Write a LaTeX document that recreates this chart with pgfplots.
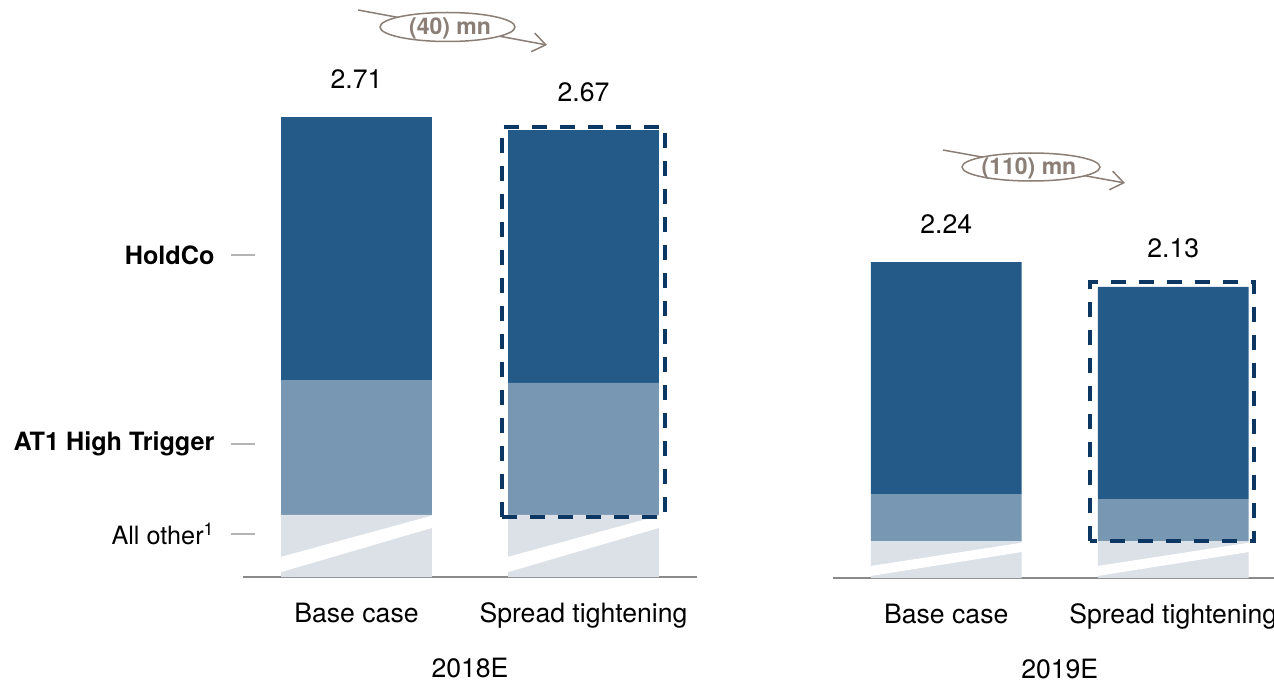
\documentclass[border=0pt]{standalone}
\usepackage{pgfplots}
\pgfplotsset{compat=1.18}
\usepackage{pgfplotstable}
\usepackage{fontspec}
\setmainfont{TeX Gyre Heros}
\usetikzlibrary{arrows.meta}

\definecolor{holdco}{HTML}{245A87}
\definecolor{atone}{HTML}{7897B2}
\definecolor{allother}{HTML}{DBE1E7}
\definecolor{framecol}{HTML}{0C3763}
\definecolor{axisgray}{HTML}{8A8A8A}
\definecolor{tickgray}{HTML}{B4B4B4}
\definecolor{notecol}{HTML}{8A7E76}

% Funding cost split per scenario (bn), broken value axis
\pgfplotstableread{
x other at1 holdco
0 1.486 0.415 0.809
1 1.486 0.406 0.778
}\dataA
\pgfplotstableread{
x other at1 holdco
0 1.011 0.207 1.022
1 1.011 0.185 0.934
}\dataB

\newcommand\mainfont{\fontsize{13.3}{15}\selectfont}
\newcommand\catfont{\fontsize{12.6}{14}\selectfont}
\newcommand\notefont{\fontsize{11.5}{13}\selectfont\bfseries}

\pgfplotsset{
  panel/.style={
    scale only axis, width=227pt,
    ybar stacked, bar width=0.664,
    xmin=-0.5, xmax=1.5,
    axis x line=bottom, axis y line=left, axis line style={-},
    x axis line style={draw=axisgray, line width=1pt},
    y axis line style={draw=none},
    tick align=center, major tick length=11.5pt,
    xtick={0,1}, xticklabels={Base case, Spread tightening},
    x tick style={draw=none},
    xticklabel style={font=\mainfont, anchor=base, yshift=-17pt},
    clip=false,
  },
}

\begin{document}
\begin{tikzpicture}
\useasboundingbox (0,0) rectangle (637pt,343.5pt);

% ---- 2018E ----
\begin{axis}[panel, at={(121.5pt,55pt)}, anchor=south west,
  height=263.5pt, ymin=1.295, ymax=2.9165,
  ytick={1.427,1.704,2.286},
  yticklabels={All other\textsuperscript{1}, \textbf{AT1 High Trigger}, \textbf{HoldCo}},
  y tick style={draw=tickgray, line width=1pt},
  yticklabel style={font=\catfont, anchor=east, xshift=-5pt}]
\addplot[fill=allother, draw=none] table[x=x,y=other] {\dataA};
\addplot[fill=atone, draw=none] table[x=x,y=at1] {\dataA};
\addplot[fill=holdco, draw=none] table[x=x,y=holdco] {\dataA};
% corners of the axis-break stripes and of the scenario frame
\coordinate (A1) at (axis cs:-0.333,1.310); \coordinate (A2) at (axis cs:-0.333,1.357);
\coordinate (A3) at (axis cs:0.333,1.484);  \coordinate (A4) at (axis cs:0.333,1.446);
\coordinate (B1) at (axis cs:0.667,1.310);  \coordinate (B2) at (axis cs:0.667,1.357);
\coordinate (B3) at (axis cs:1.333,1.484);  \coordinate (B4) at (axis cs:1.333,1.446);
\coordinate (F1) at (axis cs:0.639,1.481);  \coordinate (F2) at (axis cs:1.361,2.681);
% totals
\node[font=\mainfont, anchor=base, yshift=14.5pt] at (axis cs:0,2.71) {2.71};
\node[font=\mainfont, anchor=base, yshift=14.5pt] at (axis cs:1,2.67) {2.67};
\node[font=\mainfont, anchor=base, yshift=-50pt] at (axis cs:0.5,1.295) {2018E};
\end{axis}
\fill[white] (A1) -- (A2) -- (A3) -- (A4) -- cycle;
\fill[white] (B1) -- (B2) -- (B3) -- (B4) -- cycle;
\draw[framecol, line width=2pt, dash pattern=on 7.5pt off 6.5pt] (F1) rectangle (F2);

% ---- 2019E ----
\begin{axis}[panel, at={(416.375pt,54.5pt)}, anchor=south west,
  height=264pt, ymin=0.848, ymax=3.174, ytick=\empty]
\addplot[fill=allother, draw=none] table[x=x,y=other] {\dataB};
\addplot[fill=atone, draw=none] table[x=x,y=at1] {\dataB};
\addplot[fill=holdco, draw=none] table[x=x,y=holdco] {\dataB};
\coordinate (C1) at (axis cs:-0.333,0.857); \coordinate (C2) at (axis cs:-0.333,0.901);
\coordinate (C3) at (axis cs:0.333,1.0035); \coordinate (C4) at (axis cs:0.333,0.9625);
\coordinate (D1) at (axis cs:0.667,0.857);  \coordinate (D2) at (axis cs:0.667,0.901);
\coordinate (D3) at (axis cs:1.333,1.0035); \coordinate (D4) at (axis cs:1.333,0.9625);
\coordinate (G1) at (axis cs:0.635,1.009);  \coordinate (G2) at (axis cs:1.356,2.152);
\node[font=\mainfont, anchor=base, yshift=14.5pt] at (axis cs:0,2.24) {2.24};
\node[font=\mainfont, anchor=base, yshift=14.5pt] at (axis cs:1,2.13) {2.13};
\node[font=\mainfont, anchor=base, yshift=-50pt] at (axis cs:0.5,0.848) {2019E};
\end{axis}
\fill[white] (C1) -- (C2) -- (C3) -- (C4) -- cycle;
\fill[white] (D1) -- (D2) -- (D3) -- (D4) -- cycle;
\draw[framecol, line width=2pt, dash pattern=on 7.5pt off 6.5pt] (G1) rectangle (G2);

% ---- change annotations ----
\draw[notecol, line width=0.75pt, -{Straight Barb[length=6.5pt,width=9.5pt]}]
  (179pt,338.5pt) -- (273.5pt,321pt);
\draw[notecol, line width=0.75pt, fill=white] (223.75pt,330pt) ellipse (33.75pt and 7.25pt);
\node[notecol, font=\notefont] at (225pt,329.5pt) {(40) mn};

\draw[notecol, line width=0.75pt, -{Straight Barb[length=6.5pt,width=9.5pt]}]
  (471.5pt,268.5pt) -- (562.5pt,252pt);
\draw[notecol, line width=0.75pt, fill=white] (515.5pt,260pt) ellipse (34.5pt and 7pt);
\node[notecol, font=\notefont] at (514.5pt,259.5pt) {(110) mn};
\end{tikzpicture}
\end{document}
